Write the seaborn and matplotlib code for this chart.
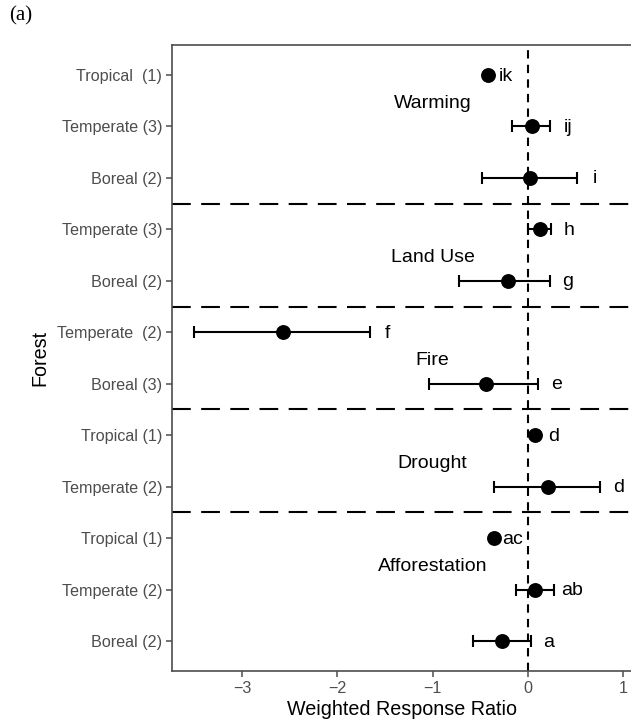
import matplotlib
matplotlib.use("Agg")
import matplotlib.pyplot as plt
import seaborn as sns
import pandas as pd
import numpy as np

# Weighted response ratios by disturbance type and forest biome
disturbance = ["Warming", "Warming", "Warming",
               "Land Use", "Land Use",
               "Fire", "Fire",
               "Drought", "Drought",
               "Afforestation", "Afforestation", "Afforestation"]
forest_labels = ["Tropical  (1)", "Temperate (3)", "Boreal (2)",
                 "Temperate (3)", "Boreal (2)",
                 "Temperate  (2)", "Boreal (3)",
                 "Tropical (1)", "Temperate (2)",
                 "Tropical (1)", "Temperate (2)", "Boreal (2)"]
wrr = [-0.42, 0.04, 0.02,
       0.13, -0.21,
       -2.57, -0.44,
       0.08, 0.21,
       -0.35, 0.08, -0.27]
ci_low = [np.nan, -0.17, -0.48,
          0.00, -0.72,
          -3.51, -1.04,
          np.nan, -0.35,
          np.nan, -0.12, -0.58]
ci_high = [np.nan, 0.235, 0.52,
           0.24, 0.23,
           -1.66, 0.11,
           np.nan, 0.76,
           np.nan, 0.28, 0.03]
letters = ["ik", "ij", "i", "h", "g", "f", "e", "d", "d", "ac", "ab", "a"]
group_order = ["Warming", "Land Use", "Fire", "Drought", "Afforestation"]

df = pd.DataFrame({
    "row": np.arange(len(wrr)),
    "disturbance": disturbance,
    "forest": forest_labels,
    "wrr": wrr,
    "lo": ci_low,
    "hi": ci_high,
    "letter": letters,
})

sns.set_theme(style="white")
plt.rcParams["font.family"] = ["Liberation Sans", "DejaVu Sans"]

fig = plt.figure(figsize=(6.31, 7.25), dpi=100)
ax = fig.add_axes([0.2726, 0.0745, 0.7290, 0.8634])

# group separators and zero line
bounds = df.groupby("disturbance", sort=False)["row"].max()
for g in group_order[:-1]:
    ax.axhline(bounds[g] + 0.5, color="black", lw=1.5, ls=(0, (9, 5)), zorder=1)
ax.axvline(0, color="black", lw=1.5, ls=(0, (4, 3)), zorder=1)

# confidence intervals
has_ci = df.dropna(subset=["lo", "hi"])
ax.errorbar(has_ci["wrr"], has_ci["row"],
            xerr=[has_ci["wrr"] - has_ci["lo"], has_ci["hi"] - has_ci["wrr"]],
            fmt="none", ecolor="black", elinewidth=1.5, capsize=4.5,
            capthick=1.5, zorder=2)

sns.scatterplot(data=df, x="wrr", y="row", color="black", s=115,
                edgecolor="black", linewidth=0, ax=ax, zorder=3, legend=False)

# significance letters to the right of each estimate
for _, r in df.iterrows():
    right = r["hi"] if not np.isnan(r["hi"]) else r["wrr"]
    ax.text(right + 0.19, r["row"] + 0.02, r["letter"], ha="center", va="center",
            fontsize=14, color="black")

# disturbance names
for g in group_order:
    first = df.loc[df["disturbance"] == g, "row"].min()
    ax.text(-1.0, first + 0.55, g, ha="center", va="center",
            fontsize=14, color="black")

ax.set_xlim(-3.737, 1.095)
ax.set_ylim(11.583, -0.583)
ax.set_xticks([-3, -2, -1, 0, 1])
ax.set_xticklabels(["\u22123", "\u22122", "\u22121", "0", "1"])
ax.set_yticks(df["row"])
ax.set_yticklabels(df["forest"])
ax.tick_params(axis="both", which="both", length=4, width=1.1, color="#4d4d4d",
               labelcolor="#4d4d4d", labelsize=11.6, pad=3,
               left=True, bottom=True)
ax.set_xlabel("Weighted Response Ratio", fontsize=14.2, color="black", labelpad=3)
ax.set_ylabel("Forest", fontsize=14.2, color="black", labelpad=6)

for side in ["left", "bottom", "top"]:
    ax.spines[side].set_visible(True)
    ax.spines[side].set_color("#4d4d4d")
    ax.spines[side].set_linewidth(1.2)
ax.spines["right"].set_visible(False)

fig.text(0.033, 0.978, "(a)", fontsize=15, family="Liberation Serif",
         ha="center", va="center", color="black")

fig.savefig("out.png", dpi=100)
